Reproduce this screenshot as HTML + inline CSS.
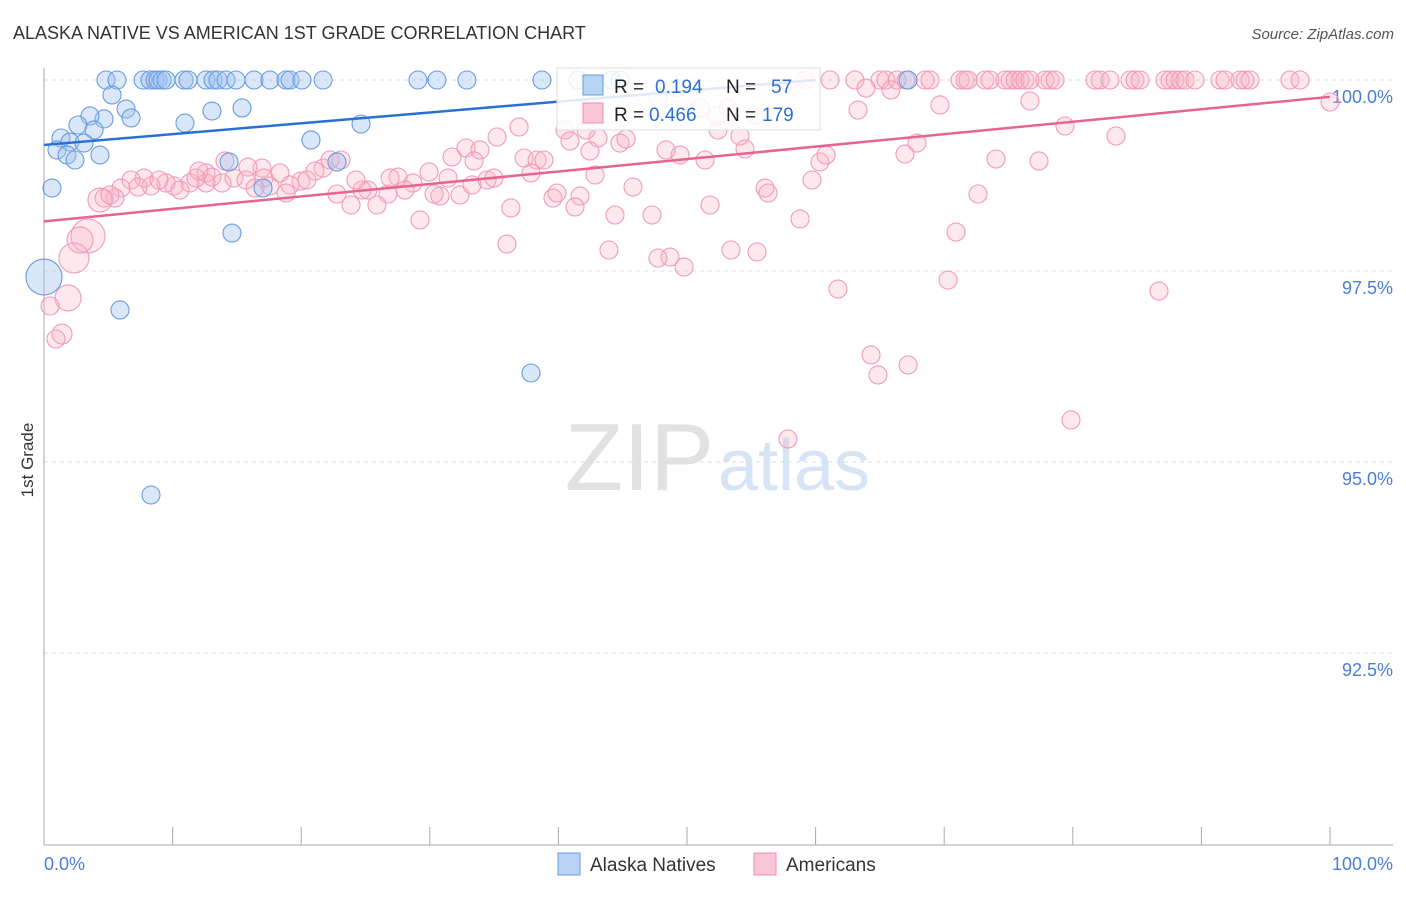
<!DOCTYPE html>
<html><head><meta charset="utf-8">
<style>
body{margin:0;background:#fff;font-family:"Liberation Sans",sans-serif;}
svg text{font-family:"Liberation Sans",sans-serif;}
</style></head>
<body>
<svg id="chart" width="1406" height="892" xmlns="http://www.w3.org/2000/svg">
<text x="13" y="39" font-size="18" fill="#333">ALASKA NATIVE VS AMERICAN 1ST GRADE CORRELATION CHART</text>
<text x="1394" y="39" font-size="15" fill="#555" text-anchor="end" font-style="italic">Source: ZipAtlas.com</text>
<text x="33" y="460" font-size="17" fill="#333" text-anchor="middle" transform="rotate(-90 33 460)">1st Grade</text>
<text x="714" y="490" font-size="96" fill="#e2e2e2" text-anchor="end" font-family="Liberation Serif">ZIP</text>
<text x="718" y="490" font-size="72" fill="#d6e4f5">atlas</text>
<g id="grid"></g><g id="pts"></g><g id="lines"></g>
<g>
<rect x="557" y="68" width="263" height="62" fill="#fff" fill-opacity="0.85" stroke="#ddd"/>
<rect x="583" y="75" width="20" height="20" fill="#b9d3f5" stroke="#6a9be0"/>
<rect x="583" y="103" width="20" height="20" fill="#f9c6d6" stroke="#f08fae"/>
<text x="614" y="93" font-size="19" fill="#222">R =</text><text x="655" y="93" font-size="19" fill="#2a6fd6">0.194</text>
<text x="726" y="93" font-size="19" fill="#222">N =</text><text x="771" y="93" font-size="19" fill="#2a6fd6">57</text>
<text x="614" y="121" font-size="19" fill="#222">R =</text><text x="649" y="121" font-size="19" fill="#2a6fd6">0.466</text>
<text x="726" y="121" font-size="19" fill="#222">N =</text><text x="762" y="121" font-size="19" fill="#2a6fd6">179</text>
</g>
<g>
<rect x="558" y="853" width="22" height="22" fill="#b9d3f5" stroke="#6a9be0"/>
<text x="590" y="871" font-size="19" fill="#333">Alaska Natives</text>
<rect x="754" y="853" width="22" height="22" fill="#f9c6d6" stroke="#f08fae"/>
<text x="786" y="871" font-size="19" fill="#333">Americans</text>
</g>
<text x="44" y="870" font-size="18" fill="#4a7fd4">0.0%</text>
<text x="1393" y="870" font-size="18" fill="#4a7fd4" text-anchor="end">100.0%</text>
</svg>
<script>
const yTicks=[100,97.5,95,92.5];
const yTickLabels=["100.0%","97.5%","95.0%","92.5%"];
const px=[106,117,143,150,155,158,162,166,184,188,206,213,218,226,236,254,270,286,290,302,323,418,437,467,542,578,612,620,908,112,126,131,104,90,78,94,61,70,84,57,67,75,100,52,185,212,242,311,361,229,337,263,232,120,531,151,44];
const py=[80,80,80,80,80,80,80,80,80,80,80,80,80,80,80,80,80,80,80,80,80,80,80,80,80,80,80,80,80,95,109,118,119,116,125,130,138,142,143,150,155,160,155,188,123,111,108,140,124,162,162,188,233,310,373,495,277];
const alaskaX=px.map(v=>+((v-44)/12.86).toFixed(2));
const alaskaY=py.map(v=>+(100-(v-80)/76.4).toFixed(3));
const alaskaR=alaskaX.map((v,i)=>i==px.length-1?18:9);
const qx=[830,855,880,886,897,906,925,930,960,965,968,985,990,1005,1010,1015,1020,1025,1030,1045,1050,1055,1095,1100,1110,1130,1135,1140,1165,1170,1175,1180,1185,1195,1220,1225,1240,1245,1250,1290,1300,806,866,891,1330,940,1030,858,1065,1116,917,905,996,1039,978,956,948,1159,871,878,908,1071,788,838,800,812,820,826,765,768,757,731,710,684,670,658,652,633,615,609,598,590,620,626,666,680,705,718,740,745,565,570,524,537,544,531,519,497,466,480,452,448,429,413,398,388,377,351,368,362,337,323,330,315,341,356,301,290,286,262,264,248,234,222,206,206,190,174,166,151,144,131,121,115,104,100,110,88,80,74,68,50,62,56,212,246,270,280,307,390,405,420,440,460,472,487,494,511,507,553,557,580,575,595,586,474,434,255,225,196,159,138,180,199,717,755,700,658,677,728];
const qy=[80,80,80,80,80,80,80,80,80,80,80,80,80,80,80,80,80,80,80,80,80,80,80,80,80,80,80,80,80,80,80,80,80,80,80,80,80,80,80,80,80,80,88,90,102,105,101,110,126,136,143,154,159,161,194,232,280,291,355,375,365,420,439,289,219,180,162,155,188,193,252,250,205,267,257,258,215,187,215,250,138,151,143,139,150,155,160,130,136,149,130,141,158,160,160,173,127,137,148,150,157,178,172,183,177,194,205,205,190,190,194,168,160,171,160,180,181,185,193,168,178,167,178,183,183,173,183,186,183,186,178,180,188,198,198,200,195,236,240,258,298,306,334,339,177,180,186,173,180,178,190,220,196,195,185,180,178,208,244,198,193,196,207,175,130,161,194,188,161,178,180,187,190,171,116,115,108,98,88,108];
const amerX=qx.map(v=>+((v-44)/12.86).toFixed(2));
const amerY=qy.map(v=>+(100-(v-80)/76.4).toFixed(3));
const bigMap={100:12,88:17,80:13,74:15,68:13,62:10};
const amerR=qx.map((v,i)=>(bigMap[v]&&qy[i]>190)?bigMap[v]:9);
const alaskaTrend=[[0,99.15],[60,100.0]];
const amerTrend=[[0,98.15],[100,99.78]];
const L=44,R=1330,T=80;
const xs=v=>L+(R-L)*v/100;
const ys=v=>T+(100-v)*76.4;
const NS="http://www.w3.org/2000/svg";
function mk(tag,attrs,parent){const e=document.createElementNS(NS,tag);for(const k in attrs)e.setAttribute(k,attrs[k]);parent.appendChild(e);return e;}
const grid=document.getElementById('grid');
yTicks.forEach((t,i)=>{
 const l=mk('line',{x1:L,x2:1393,y1:ys(t),y2:ys(t),stroke:'#ddd','stroke-dasharray':'4,4'},grid);
 
 
 const tx=mk('text',{x:1393,y:ys(t)+23,'font-size':18,fill:'#4a7fd4','text-anchor':'end'},grid);
 tx.textContent=yTickLabels[i];
 
 
});
const ya=mk('line',{x1:L,x2:L,y1:68,y2:845,stroke:'#aaa'},grid);


const xa=mk('line',{x1:L,x2:1393,y1:845,y2:845,stroke:'#aaa'},grid);


for(let i=0;i<=10;i++){const tk=mk('line',{x1:xs(i*10),x2:xs(i*10),y1:827,y2:845,stroke:'#aaa'},grid);
 
 }
const pts=document.getElementById('pts');
amerX.forEach((v,i)=>{const c=mk('circle',{cx:xs(v),cy:ys(amerY[i]),r:amerR[i],fill:'rgba(248,178,200,0.3)',stroke:'#f19ab6','stroke-width':1.1},pts);
 
 });
alaskaX.forEach((v,i)=>{const c=mk('circle',{cx:xs(v),cy:ys(alaskaY[i]),r:alaskaR[i],fill:'rgba(160,196,240,0.4)',stroke:'#6a9be0','stroke-width':1.1},pts);
 
 });
const lines=document.getElementById('lines');
const bl=mk('line',{x1:xs(alaskaTrend[0][0]),y1:ys(alaskaTrend[0][1]),x2:xs(alaskaTrend[1][0]),y2:ys(alaskaTrend[1][1]),stroke:'#2a6fd6','stroke-width':2.5},lines);


const pl=mk('line',{x1:xs(amerTrend[0][0]),y1:ys(amerTrend[0][1]),x2:xs(amerTrend[1][0]),y2:ys(amerTrend[1][1]),stroke:'#e8648f','stroke-width':2.5},lines);


</script>
</body></html>
